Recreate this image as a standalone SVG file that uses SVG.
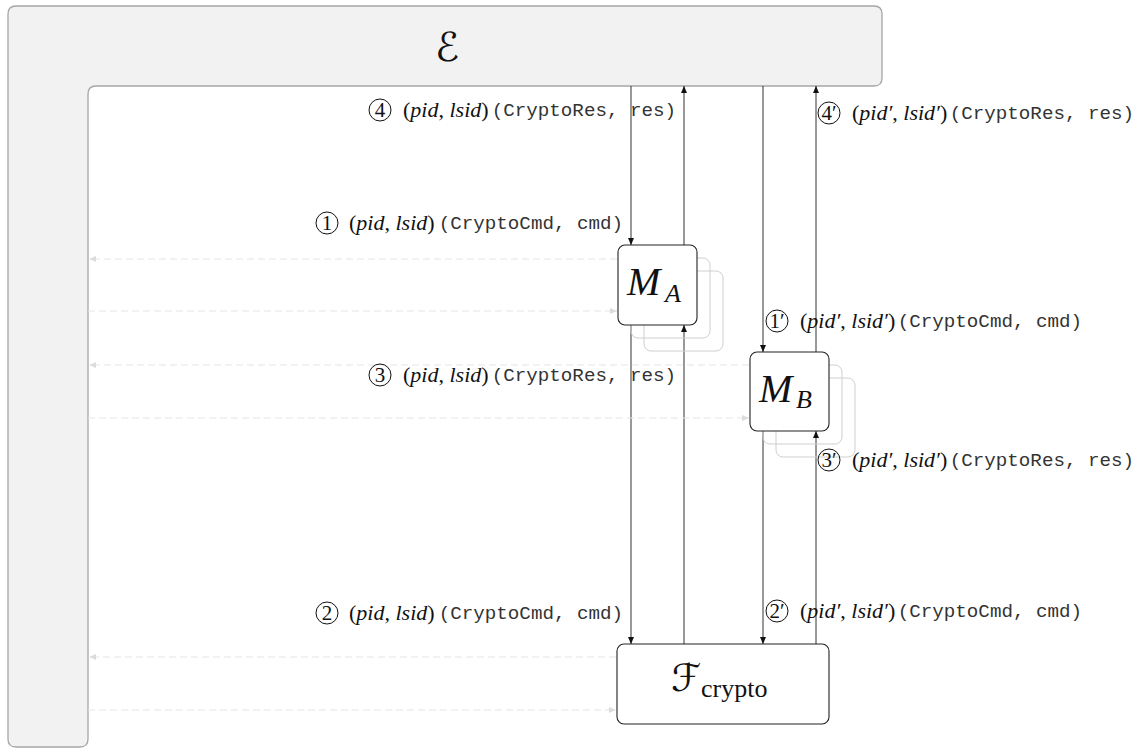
<svg xmlns="http://www.w3.org/2000/svg" width="1147" height="749" viewBox="0 0 1147 749">
<style>
.env{fill:#f2f2f2;stroke:#a6a6a6;stroke-width:1.3}
.box{fill:#ffffff;stroke:#222;stroke-width:1.1}
.shadow{fill:none;stroke:#cfcfcf;stroke-width:1}
.flow{stroke:#333;stroke-width:1;fill:none}
.dash{stroke:#e6e6e6;stroke-width:1.2;fill:none;stroke-dasharray:7 4}
.circ{fill:none;stroke:#111;stroke-width:1}
.num{font-family:"Liberation Serif",serif;font-size:21px;fill:#111;text-anchor:middle}
.tm{font-family:"Liberation Serif",serif;font-size:22px;fill:#111}
.it{font-style:italic}
.mo{font-family:"Liberation Mono",monospace;font-size:19.2px;fill:#333;text-anchor:end}
.big{font-family:"Liberation Serif",serif;fill:#111}
.cal{font-family:"DejaVu Serif","DejaVu Sans",serif;fill:#111;font-style:italic}
</style>
<defs>
<marker id="ah" markerWidth="8" markerHeight="6" refX="7" refY="3" orient="auto" markerUnits="userSpaceOnUse">
<path d="M0,0 L7,3 L0,6 z" fill="#111"/>
</marker>
<marker id="ahl" markerWidth="8" markerHeight="6" refX="7" refY="3" orient="auto" markerUnits="userSpaceOnUse">
<path d="M0,0 L7,3 L0,6 z" fill="#dcdcdc"/>
</marker>
</defs>

<g id="env">
<path class="env" d="M16,6 H874 Q882,6 882,14 V78 Q882,86 874,86 H96 Q88,86 88,94 V739 Q88,747 80,747 H16 Q8,747 8,739 V14 Q8,6 16,6 Z"/>
<text class="cal" x="447" y="61" font-size="40" text-anchor="middle">ℰ</text>
</g>

<g id="connectors">
<line class="flow" x1="631" y1="86" x2="631" y2="245" marker-end="url(#ah)"/>
<line class="flow" x1="684" y1="245" x2="684" y2="86" marker-end="url(#ah)"/>
<line class="flow" x1="631" y1="325" x2="631" y2="644" marker-end="url(#ah)"/>
<line class="flow" x1="684" y1="644" x2="684" y2="325" marker-end="url(#ah)"/>
<line class="flow" x1="763" y1="86" x2="763" y2="352" marker-end="url(#ah)"/>
<line class="flow" x1="816" y1="352" x2="816" y2="86" marker-end="url(#ah)"/>
<line class="flow" x1="763" y1="431" x2="763" y2="644" marker-end="url(#ah)"/>
<line class="flow" x1="816" y1="644" x2="816" y2="431" marker-end="url(#ah)"/>
<line class="dash" x1="617" y1="259" x2="89" y2="259" marker-end="url(#ahl)"/>
<line class="dash" x1="88" y1="311" x2="617" y2="311" marker-end="url(#ahl)"/>
<line class="dash" x1="749" y1="365" x2="89" y2="365" marker-end="url(#ahl)"/>
<line class="dash" x1="88" y1="418" x2="749" y2="418" marker-end="url(#ahl)"/>
<line class="dash" x1="616" y1="657" x2="89" y2="657" marker-end="url(#ahl)"/>
<line class="dash" x1="88" y1="710" x2="616" y2="710" marker-end="url(#ahl)"/>
</g>

<g id="MA">
<rect class="shadow" x="644" y="271" width="79" height="80" rx="7"/>
<rect class="shadow" x="631" y="258" width="79" height="80" rx="7"/>
<rect class="box" x="618" y="245" width="79" height="80" rx="7"/>
<text class="big" x="627" y="295" font-size="40" font-style="italic">M</text>
<text class="big" x="665" y="302" font-size="26" font-style="italic">A</text>
</g>

<g id="MB">
<rect class="shadow" x="776" y="378" width="79" height="79" rx="7"/>
<rect class="shadow" x="763" y="365" width="79" height="79" rx="7"/>
<rect class="box" x="750" y="352" width="79" height="79" rx="7"/>
<text class="big" x="759" y="402" font-size="40" font-style="italic">M</text>
<text class="big" x="796" y="408" font-size="26" font-style="italic">B</text>
</g>

<g id="Fcrypto">
<rect class="box" x="617" y="644" width="212" height="80" rx="7"/>
<text class="cal" x="686" y="691" font-size="38" text-anchor="middle">ℱ</text>
<text class="big" x="701" y="697" font-size="26">crypto</text>
</g>

<g id="labels">
<g id="l4">
<circle class="circ" cx="380" cy="110" r="11"/><text class="num" x="380" y="117">4</text>
<text class="tm" x="403" y="117">(<tspan class="it">pid</tspan>, <tspan class="it">lsid</tspan>)</text>
<text class="mo" x="676" y="116">(CryptoRes, res)</text>
</g>
<g id="l1">
<circle class="circ" cx="327" cy="223" r="11"/><text class="num" x="327" y="230">1</text>
<text class="tm" x="349" y="230">(<tspan class="it">pid</tspan>, <tspan class="it">lsid</tspan>)</text>
<text class="mo" x="623" y="229">(CryptoCmd, cmd)</text>
</g>
<g id="l3">
<circle class="circ" cx="380" cy="375" r="11"/><text class="num" x="380" y="382">3</text>
<text class="tm" x="403" y="382">(<tspan class="it">pid</tspan>, <tspan class="it">lsid</tspan>)</text>
<text class="mo" x="676" y="381">(CryptoRes, res)</text>
</g>
<g id="l2">
<circle class="circ" cx="327" cy="613" r="11"/><text class="num" x="327" y="620">2</text>
<text class="tm" x="349" y="620">(<tspan class="it">pid</tspan>, <tspan class="it">lsid</tspan>)</text>
<text class="mo" x="623" y="619">(CryptoCmd, cmd)</text>
</g>
<g id="l4p">
<circle class="circ" cx="829" cy="113" r="11"/><text class="num" x="829" y="120">4′</text>
<text class="tm" x="852" y="120">(<tspan class="it">pid′</tspan>, <tspan class="it">lsid′</tspan>)</text>
<text class="mo" x="1134" y="119">(CryptoRes, res)</text>
</g>
<g id="l1p">
<circle class="circ" cx="777" cy="321" r="11"/><text class="num" x="777" y="328">1′</text>
<text class="tm" x="800" y="328">(<tspan class="it">pid′</tspan>, <tspan class="it">lsid′</tspan>)</text>
<text class="mo" x="1082" y="327">(CryptoCmd, cmd)</text>
</g>
<g id="l3p">
<circle class="circ" cx="829" cy="460" r="11"/><text class="num" x="829" y="467">3′</text>
<text class="tm" x="852" y="467">(<tspan class="it">pid′</tspan>, <tspan class="it">lsid′</tspan>)</text>
<text class="mo" x="1134" y="466">(CryptoRes, res)</text>
</g>
<g id="l2p">
<circle class="circ" cx="777" cy="611" r="11"/><text class="num" x="777" y="618">2′</text>
<text class="tm" x="800" y="618">(<tspan class="it">pid′</tspan>, <tspan class="it">lsid′</tspan>)</text>
<text class="mo" x="1082" y="617">(CryptoCmd, cmd)</text>
</g>
</g>
</svg>
